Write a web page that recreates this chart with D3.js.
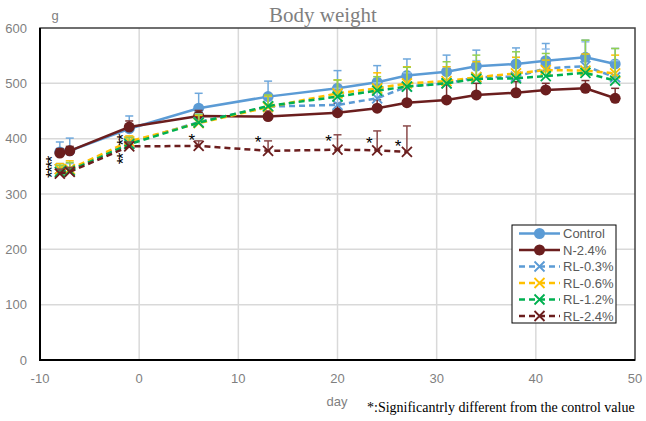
<!DOCTYPE html>
<html>
<head>
<meta charset="utf-8">
<script src="https://cdn.jsdelivr.net/npm/d3@7"></script>
<style>
	body { margin: 0; background: #fff; }
	text { font-family: "Liberation Sans", Arial, sans-serif; }
	.serif { font-family: "Liberation Serif", "Times New Roman", serif; }
</style>
</head>
<body>
<div id="graphic"></div>
<script>
// days of measurement
const days = [-8, -7, -1, 6, 13, 20, 24, 27, 31, 34, 38, 41, 45, 48];
const daysShort = [-8, -7, -1, 6, 13, 20, 24, 27];

// mean body weight (g) and upper SD per group
const control = [376, 378, 418, 455, 476, 491, 502, 514, 521, 531, 535, 541, 547, 535];
const controlSd = [18, 23, 23, 27, 28, 32, 30, 30, 30, 29, 29, 31, 31, 28];
const n24 = [374, 378, 421, 441, 440, 447, 455, 465, 470, 479, 483, 488, 491, 473];
const n24Sd = [8, 8, 11, 10, 10, 17, 15, 32, 27, 21, 20, 12, 14, 18];
const rl03 = [345, 343, 392, 430, 458, 461, 473, 494, 500, 511, 512, 527, 531, 511];
const rl03Sd = [10, 12, 12, 15, 18, 30, 28, 25, 30, 30, 35, 35, 44, 30];
const rl06 = [345, 345, 395, 428, 457, 482, 491, 500, 504, 511, 518, 524, 523, 518];
const rl06Sd = [10, 15, 10, 14, 20, 24, 28, 30, 26, 28, 29, 18, 30, 33];
const rl12 = [340, 342, 390, 429, 459, 476, 487, 494, 500, 508, 509, 513, 519, 505];
const rl12Sd = [12, 15, 12, 15, 20, 30, 25, 35, 39, 43, 48, 41, 59, 58];
const rl24 = [337, 340, 386, 387, 378, 380, 379, 376];
const rl24Sd = [8, 8, 8, 9, 18, 27, 35, 47];

// significance asterisks: position (day, g) of each stack and how many are stacked
const starDays = [-9.1, -2.0, -2.0, 5.3, 12.0, 19.1, 23.2, 26.1];
const starValues = [348, 397, 363, 404, 399, 401, 398, 392];
const starCounts = [4, 2, 2, 1, 1, 1, 1, 1];

const xTicks = [-10, 0, 10, 20, 30, 40, 50];
const yTicks = [0, 100, 200, 300, 400, 500, 600];

const series = [
	{ name: 'Control', x: days, y: control, sd: controlSd, colour: '#5B9BD5', err: '#6fa8dc', dash: null, marker: 'circle' },
	{ name: 'N-2.4%', x: days, y: n24, sd: n24Sd, colour: '#6B1E1E', err: '#7a3030', dash: null, marker: 'circle' },
	{ name: 'RL-0.3%', x: days, y: rl03, sd: rl03Sd, colour: '#5B9BD5', err: '#8fbbe8', dash: '6,4', marker: 'cross' },
	{ name: 'RL-0.6%', x: days, y: rl06, sd: rl06Sd, colour: '#FFC000', err: '#ffc000', dash: '6,4', marker: 'cross' },
	{ name: 'RL-1.2%', x: days, y: rl12, sd: rl12Sd, colour: '#00B050', err: '#92D050', dash: '6,4', marker: 'cross' },
	{ name: 'RL-2.4%', x: daysShort, y: rl24, sd: rl24Sd, colour: '#6B1E1E', err: '#8a4a4a', dash: '6,4', marker: 'cross' }
];

const width = 646, height = 421;
const margin = { top: 28, right: 11, bottom: 61, left: 40 };

const svg = d3.select('#graphic').append('svg')
	.attr('width', width).attr('height', height);

const x = d3.scaleLinear().domain([-10, 50]).range([margin.left, width - margin.right]);
const y = d3.scaleLinear().domain([0, 600]).range([height - margin.bottom, margin.top]);

// gridlines
svg.append('g').selectAll('line').data(xTicks.slice(1, -1)).join('line')
	.attr('x1', d => x(d)).attr('x2', d => x(d))
	.attr('y1', y(0)).attr('y2', y(600))
	.attr('stroke', '#d9d9d9').attr('stroke-width', 1.5);
svg.append('g').selectAll('line').data(yTicks.slice(1, -1)).join('line')
	.attr('x1', x(-10)).attr('x2', x(50))
	.attr('y1', d => y(d)).attr('y2', d => y(d))
	.attr('stroke', '#d9d9d9').attr('stroke-width', 1.5);

// frame
svg.append('rect')
	.attr('x', x(-10)).attr('y', y(600))
	.attr('width', x(50) - x(-10)).attr('height', y(0) - y(600))
	.attr('fill', 'none').attr('stroke', '#404040').attr('stroke-width', 1.5);
svg.append('path')
	.attr('d', `M${x(-10)},${y(600)}V${y(0)}H${x(50)}`)
	.attr('fill', 'none').attr('stroke', '#000').attr('stroke-width', 2);

// tick labels
svg.append('g').selectAll('text').data(yTicks).join('text')
	.attr('x', 27).attr('y', d => y(d)).attr('dy', '0.35em')
	.attr('text-anchor', 'end').attr('font-size', 13).attr('fill', '#7f7f7f')
	.text(d => d);
svg.append('g').selectAll('text').data(xTicks).join('text')
	.attr('x', d => x(d)).attr('y', 378).attr('dy', '0.35em')
	.attr('text-anchor', 'middle').attr('font-size', 13).attr('fill', '#7f7f7f')
	.text(d => d);

svg.append('text').attr('x', 55).attr('y', 15).attr('dy', '0.35em')
	.attr('text-anchor', 'middle').attr('font-size', 13).attr('fill', '#7f7f7f').text('g');
svg.append('text').attr('x', 337).attr('y', 401).attr('dy', '0.35em')
	.attr('text-anchor', 'middle').attr('font-size', 13).attr('fill', '#7f7f7f').text('day');

svg.append('text').attr('class', 'serif')
	.attr('x', 323).attr('y', 22)
	.attr('text-anchor', 'middle').attr('font-size', 21).attr('fill', '#7f7f7f')
	.text('Body weight');

svg.append('text').attr('class', 'serif')
	.attr('x', 367).attr('y', 412)
	.attr('font-size', 14).attr('fill', '#000')
	.text('*:Significantrly different from the control value');

// draw series
const line = d3.line();

function drawMarker(g, type, colour) {
	if (type === 'circle') {
		g.append('circle').attr('r', 5.5).attr('fill', colour);
	} else {
		g.append('path').attr('d', 'M-5,-5L5,5M-5,5L5,-5')
			.attr('stroke', colour).attr('stroke-width', 1.8).attr('fill', 'none');
	}
}

series.forEach(s => {
	const pts = s.x.map((d, i) => [d, s.y[i], s.sd[i]]);
	const g = svg.append('g');

	// error bars (upper only)
	const eb = g.append('g').attr('stroke', s.err).attr('stroke-width', 1.5);
	eb.selectAll('line.v').data(pts).join('line').attr('class', 'v')
		.attr('x1', d => x(d[0])).attr('x2', d => x(d[0]))
		.attr('y1', d => y(d[1])).attr('y2', d => y(d[1] + d[2]));
	eb.selectAll('line.c').data(pts).join('line').attr('class', 'c')
		.attr('x1', d => x(d[0]) - 4).attr('x2', d => x(d[0]) + 4)
		.attr('y1', d => y(d[1] + d[2])).attr('y2', d => y(d[1] + d[2]));

	g.append('path')
		.attr('d', line(pts.map(d => [x(d[0]), y(d[1])])))
		.attr('fill', 'none').attr('stroke', s.colour).attr('stroke-width', 2.5)
		.attr('stroke-dasharray', s.dash);

	g.selectAll('g.m').data(pts).join('g').attr('class', 'm')
		.attr('transform', d => `translate(${x(d[0])},${y(d[1])})`)
		.each(function () { drawMarker(d3.select(this), s.marker, s.colour); });
});

// asterisks: each stack is one string written upwards (rotated) so the stars sit on top of each other
const starFont = 17;
svg.append('g').selectAll('text').data(d3.zip(starDays, starValues, starCounts)).join('text')
	.attr('font-family', '"DejaVu Sans", sans-serif')
	.attr('font-size', starFont).attr('fill', '#000')
	.attr('text-anchor', 'middle')
	.attr('letter-spacing', d => d[2] > 1 ? -1.4 : 0)
	.attr('x', d => x(d[0])).attr('y', d => y(d[1]))
	.attr('dy', '0.54em')
	.attr('transform', d => d[2] > 1 ? `rotate(-90,${x(d[0])},${y(d[1])})` : null)
	.text(d => '*'.repeat(d[2]));

// legend
const lg = svg.append('g').attr('transform', 'translate(512,225)');
lg.append('rect').attr('width', 104).attr('height', 98)
	.attr('fill', '#fff').attr('stroke', '#000').attr('stroke-width', 1);
const items = lg.selectAll('g.item').data(series).join('g').attr('class', 'item')
	.attr('transform', (d, i) => `translate(0,${8.5 + i * 16.5})`);
items.append('line').attr('x1', 7).attr('x2', 48)
	.attr('stroke', d => d.colour).attr('stroke-width', 2.5)
	.attr('stroke-dasharray', d => d.dash);
items.each(function (d) {
	const m = d3.select(this).append('g').attr('transform', 'translate(27.5,0)');
	drawMarker(m, d.marker, d.colour);
});
items.append('text').attr('x', 51).attr('dy', '0.35em')
	.attr('font-size', 13).attr('fill', '#595959').text(d => d.name);
</script>
</body>
</html>
